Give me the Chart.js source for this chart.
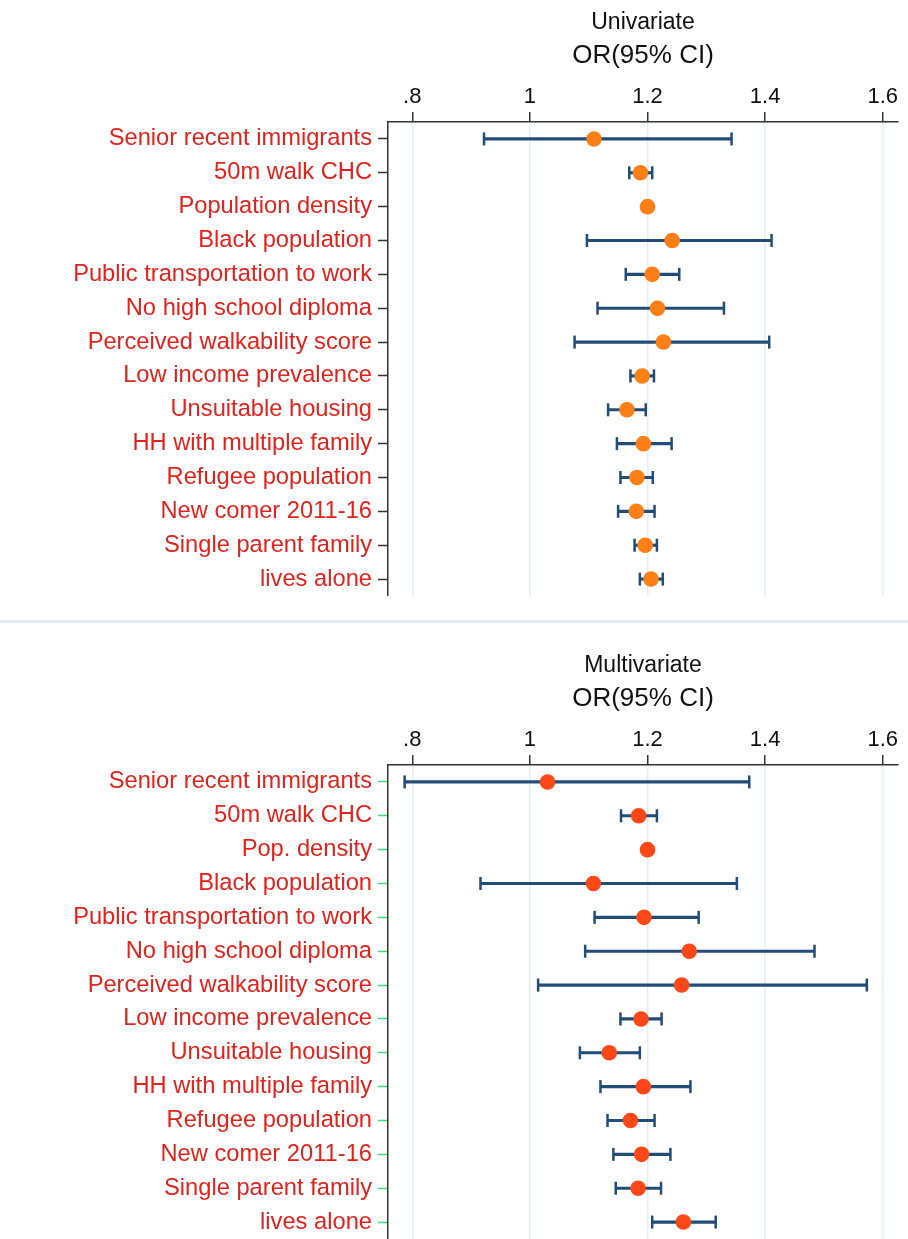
<!DOCTYPE html>
<html>
<head>
<meta charset="utf-8">
<script src="https://cdn.jsdelivr.net/npm/chart.js@4.4.1/dist/chart.umd.min.js"></script>
<style>
  body { margin: 0; background: #fff; overflow: hidden; }
  .panel { position: absolute; left: 0; width: 908px; height: 596px; }
  #sep { position: absolute; left: 0; top: 620px; width: 908px; height: 3px; background: #e1ecf1; }
</style>
</head>
<body>
<div class="panel" style="top:0"><canvas id="uni"></canvas></div>
<div id="sep"></div>
<div class="panel" style="top:643px"><canvas id="multi"></canvas></div>
<script>
// rows, top to bottom
const uniLabels = ['Senior recent immigrants', '50m walk CHC', 'Population density', 'Black population',
  'Public transportation to work', 'No high school diploma', 'Perceived walkability score',
  'Low income prevalence', 'Unsuitable housing', 'HH with multiple family', 'Refugee population',
  'New comer 2011-16', 'Single parent family', 'lives alone']
const multiLabels = ['Senior recent immigrants', '50m walk CHC', 'Pop. density', 'Black population',
  'Public transportation to work', 'No high school diploma', 'Perceived walkability score',
  'Low income prevalence', 'Unsuitable housing', 'HH with multiple family', 'Refugee population',
  'New comer 2011-16', 'Single parent family', 'lives alone']

// univariate OR and 95% CI
const uniOR   = [1.109, 1.188, 1.200, 1.242, 1.208, 1.217, 1.227, 1.191, 1.165, 1.193, 1.182, 1.181, 1.196, 1.206]
const uniLow  = [0.922, 1.169, 1.196, 1.097, 1.163, 1.115, 1.076, 1.171, 1.133, 1.148, 1.154, 1.150, 1.178, 1.187]
const uniHigh = [1.343, 1.208, 1.204, 1.411, 1.254, 1.330, 1.407, 1.211, 1.197, 1.241, 1.209, 1.212, 1.216, 1.226]

// multivariate OR and 95% CI
const multiOR   = [1.030, 1.185, 1.200, 1.108, 1.194, 1.271, 1.258, 1.189, 1.135, 1.193, 1.171, 1.190, 1.184, 1.261]
const multiLow  = [0.787, 1.155, 1.196, 0.916, 1.110, 1.094, 1.014, 1.154, 1.085, 1.120, 1.132, 1.142, 1.146, 1.208]
const multiHigh = [1.373, 1.216, 1.204, 1.352, 1.287, 1.484, 1.573, 1.224, 1.187, 1.273, 1.212, 1.239, 1.223, 1.316]

const xTickValues = [0.8, 1, 1.2, 1.4, 1.6]
const xTickLabels = ['.8', '1', '1.2', '1.4', '1.6']
const xMin = 0.7587
const xMax = 1.626

const font = 'Liberation Sans, Arial, Helvetica, sans-serif'
const ciColor = '#214d78'
Chart.defaults.font.family = font

function forest(id, title, labels, or, low, high, dotColor, yTickColor) {
    const pts = arr => arr.map((v, i) => ({ x: v, y: labels[i] }))

    new Chart(document.getElementById(id), {
        type: 'bar',
        data: {
            labels: labels,
            datasets: [
                {
                    type: 'scatter', data: pts(or), order: 0,
                    pointStyle: 'circle', pointRadius: 7.8, pointBackgroundColor: dotColor,
                    pointBorderWidth: 0
                },
                {
                    type: 'scatter', data: pts(low), order: 1,
                    pointStyle: 'line', pointRotation: 90, pointRadius: 6.5,
                    pointBorderColor: ciColor, borderColor: ciColor, pointBorderWidth: 2.5
                },
                {
                    type: 'scatter', data: pts(high), order: 1,
                    pointStyle: 'line', pointRotation: 90, pointRadius: 6.5,
                    pointBorderColor: ciColor, borderColor: ciColor, pointBorderWidth: 2.5
                },
                {
                    type: 'bar', data: low.map((v, i) => [v, high[i]]), order: 2,
                    backgroundColor: ciColor, barThickness: 2.5
                }
            ]
        },
        options: {
            indexAxis: 'y',
            responsive: true,
            maintainAspectRatio: false,
            animation: false,
            events: [],
            layout: { padding: { right: 10 }, autoPadding: false },
            plugins: {
                legend: { display: false },
                tooltip: { enabled: false },
                title: {
                    display: true, text: title, fullSize: false, color: '#111',
                    font: { size: 23, weight: 'normal' }, padding: { top: 9, bottom: 0 }
                },
                subtitle: {
                    display: true, text: 'OR(95% CI)', fullSize: false, color: '#111',
                    font: { size: 26, weight: 'normal' }, padding: { top: 3.5, bottom: 0 }
                }
            },
            scales: {
                x: {
                    type: 'linear', position: 'top', min: xMin, max: xMax,
                    afterBuildTicks: s => { s.ticks = xTickValues.map(v => ({ value: v })) },
                    afterFit: s => { s.height = 50.7 },
                    ticks: {
                        callback: (v, i) => xTickLabels[i],
                        color: '#111', font: { size: 22 }, padding: 2, maxRotation: 0, autoSkip: false
                    },
                    grid: { color: '#e4eef3', lineWidth: 1.5, tickLength: 10, tickColor: '#333', tickWidth: 1.5 },
                    border: { display: true, color: '#333', width: 1.5 }
                },
                y: {
                    type: 'category', offset: true,
                    afterFit: s => { s.width = 388; s.paddingTop = 0; s.paddingBottom = 0 },
                    ticks: { color: '#e0231c', font: { size: 23.7 }, padding: 6, autoSkip: false },
                    grid: { offset: false, drawOnChartArea: false, tickLength: 10, tickColor: yTickColor, tickWidth: 1.5 },
                    border: { display: true, color: '#333', width: 1.5 }
                }
            }
        }
    })
}

forest('uni', 'Univariate', uniLabels, uniOR, uniLow, uniHigh, '#fd7f16', '#333')
forest('multi', 'Multivariate', multiLabels, multiOR, multiLow, multiHigh, '#ff4717', '#3ddc7c')
</script>
</body>
</html>
